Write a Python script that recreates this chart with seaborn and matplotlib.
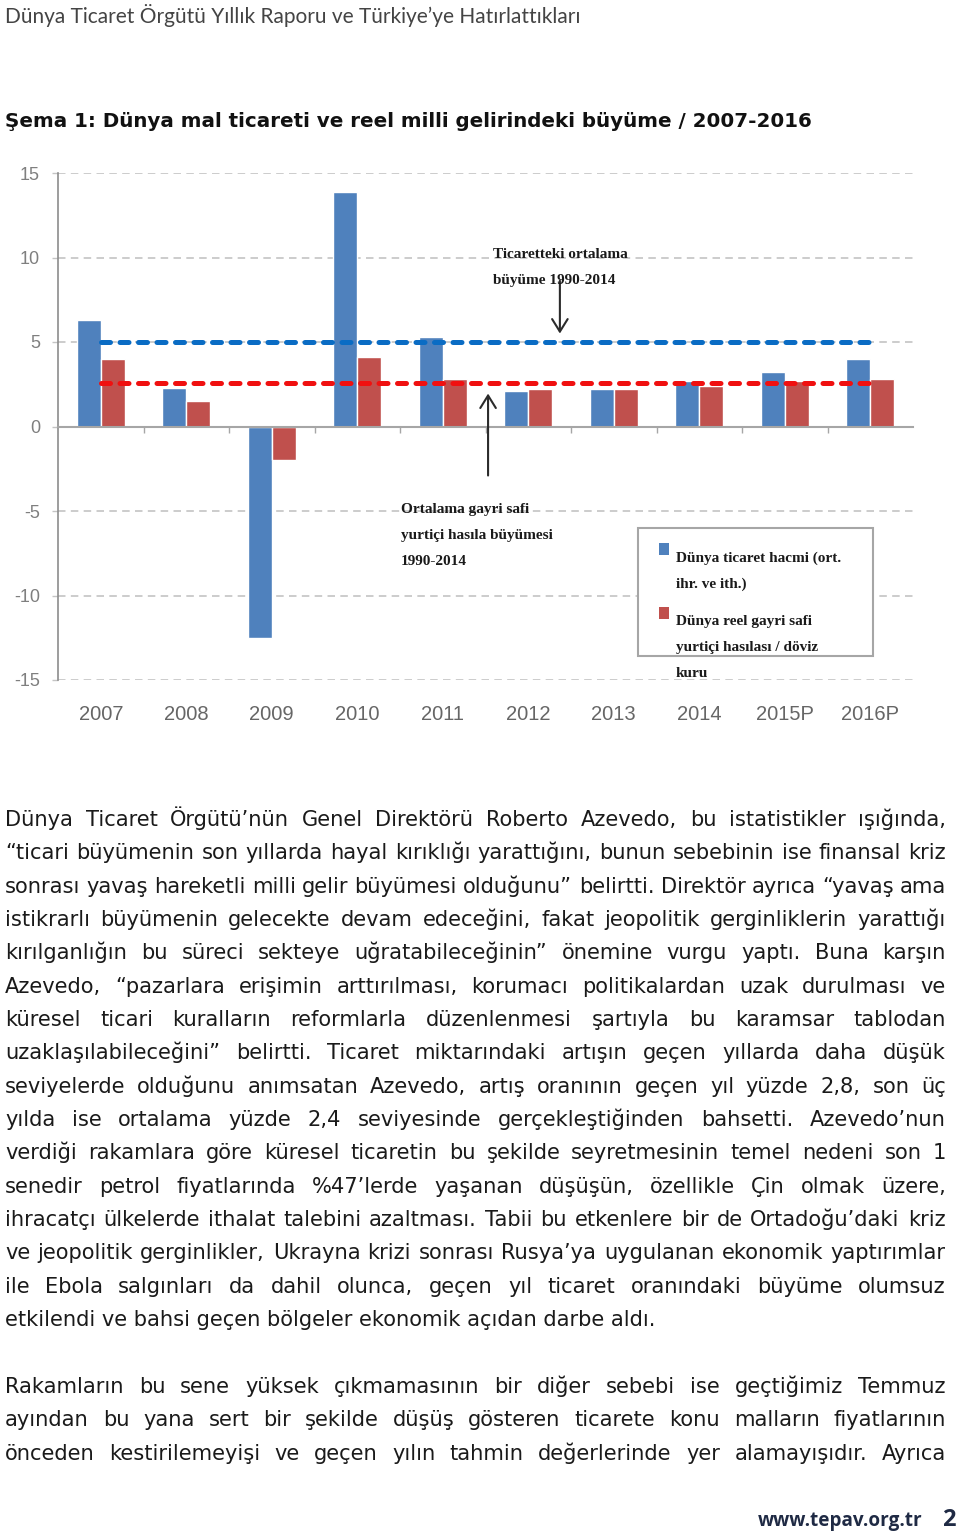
import matplotlib
matplotlib.use("Agg")
import matplotlib.pyplot as plt
from matplotlib.patches import Rectangle
import seaborn as sns
import pandas as pd

# ---------------- data ----------------
years = ['2007', '2008', '2009', '2010', '2011', '2012', '2013', '2014', '2015P', '2016P']
trade_growth = [6.3, 2.3, -12.5, 13.9, 5.3, 2.1, 2.2, 2.7, 3.2, 4.0]
gdp_growth = [4.0, 1.5, -2.0, 4.1, 2.8, 2.2, 2.2, 2.4, 2.7, 2.8]
avg_trade_1990_2014 = 5.0
avg_gdp_1990_2014 = 2.6
series_labels = ['Dünya ticaret hacmi (ort. ihr. ve ith.)',
                 'Dünya reel gayri safi yurtiçi hasılası / döviz kuru']
legend_lines = [['Dünya ticaret hacmi (ort.', 'ihr. ve ith.)'],
                ['Dünya reel gayri safi', 'yurtiçi hasılası / döviz', 'kuru']]
y_ticks = [-15, -10, -5, 0, 5, 10, 15]
y_ticklabels = ['-15', '-10', '-5', '0', '5', '10', '15']
note_trade = ['Ticaretteki ortalama', 'büyüme 1990-2014']
note_gdp = ['Ortalama gayri safi', 'yurtiçi hasıla büyümesi', '1990-2014']

header = 'Dünya Ticaret Örgütü Yıllık Raporu ve Türkiye’ye Hatırlattıkları'
title = 'Şema 1: Dünya mal ticareti ve reel milli gelirindeki büyüme / 2007-2016'
para1 = [
    'Dünya Ticaret Örgütü’nün Genel Direktörü Roberto Azevedo, bu istatistikler ışığında,',
    '“ticari büyümenin son yıllarda hayal kırıklığı yarattığını, bunun sebebinin ise finansal kriz',
    'sonrası yavaş hareketli milli gelir büyümesi olduğunu” belirtti. Direktör ayrıca “yavaş ama',
    'istikrarlı büyümenin gelecekte devam edeceğini, fakat jeopolitik gerginliklerin yarattığı',
    'kırılganlığın bu süreci sekteye uğratabileceğinin” önemine vurgu yaptı. Buna karşın',
    'Azevedo, “pazarlara erişimin arttırılması, korumacı politikalardan uzak durulması ve',
    'küresel ticari kuralların reformlarla düzenlenmesi şartıyla bu karamsar tablodan',
    'uzaklaşılabileceğini” belirtti. Ticaret miktarındaki artışın geçen yıllarda daha düşük',
    'seviyelerde olduğunu anımsatan Azevedo, artış oranının geçen yıl yüzde 2,8, son üç',
    'yılda ise ortalama yüzde 2,4 seviyesinde gerçekleştiğinden bahsetti. Azevedo’nun',
    'verdiği rakamlara göre küresel ticaretin bu şekilde seyretmesinin temel nedeni son 1',
    'senedir petrol fiyatlarında %47’lerde yaşanan düşüşün, özellikle Çin olmak üzere,',
    'ihracatçı ülkelerde ithalat talebini azaltması. Tabii bu etkenlere bir de Ortadoğu’daki kriz',
    've jeopolitik gerginlikler, Ukrayna krizi sonrası Rusya’ya uygulanan ekonomik yaptırımlar',
    'ile Ebola salgınları da dahil olunca, geçen yıl ticaret oranındaki büyüme olumsuz',
    'etkilendi ve bahsi geçen bölgeler ekonomik açıdan darbe aldı.',
]
para2 = [
    'Rakamların bu sene yüksek çıkmamasının bir diğer sebebi ise geçtiğimiz Temmuz',
    'ayından bu yana sert bir şekilde düşüş gösteren ticarete konu malların fiyatlarının',
    'önceden kestirilemeyişi ve geçen yılın tahmin değerlerinde yer alamayışıdır. Ayrıca',
]
footer = 'www.tepav.org.tr'
page_no = '2'

# ---------------- setup ----------------
sns.set_theme(style='white')
W, H = 960, 1532
fig = plt.figure(figsize=(W / 100, H / 100), dpi=100, facecolor='white')
renderer = fig.canvas.get_renderer()

def fx(px):
    return px / W

def fy(py):
    return 1 - py / H

def width_of(s, size, **kw):
    t = fig.text(0, 0, s, fontsize=size, **kw)
    w = t.get_window_extent(renderer).width
    t.remove()
    return w

def fitted_size(s, target_px, **kw):
    return 20 * target_px / width_of(s, 20, **kw)

# ---------------- chart ----------------
ax = fig.add_axes([fx(58), fy(680), fx(913) - fx(58), fy(173) - fy(680)])
df = pd.DataFrame({
    'year': years * 2,
    'value': trade_growth + gdp_growth,
    'series': [series_labels[0]] * len(years) + [series_labels[1]] * len(years),
})
bar_colors = ['#4F81BD', '#C0504D']
sns.barplot(data=df, x='year', y='value', hue='series', hue_order=series_labels,
            palette=bar_colors, saturation=1, width=0.56, gap=0, errorbar=None,
            legend=False, ax=ax, zorder=2)

n = len(years)
ax.set_xlim(-0.5, n - 0.5)
ax.set_ylim(-15, 15)
ax.set_xlabel('')
ax.set_ylabel('')
ax.set_facecolor('white')

# grid
ax.set_yticks(y_ticks, labels=y_ticklabels)
ax.yaxis.grid(True, color='#C4C4C4', linestyle=(0, (4.5, 3.2)), linewidth=1.2, zorder=0)
ax.xaxis.grid(False)
ax.set_axisbelow(True)

# spines
for s in ['top', 'right']:
    ax.spines[s].set_visible(False)
ax.spines['left'].set_color('#8C8C8C')
ax.spines['left'].set_linewidth(1.2)
ax.spines['bottom'].set_position(('data', 0))
ax.spines['bottom'].set_color('#A6A6A6')
ax.spines['bottom'].set_linewidth(1.5)
ax.spines['bottom'].set_zorder(3)

tick_font = ['Liberation Sans', 'DejaVu Sans']
ax.set_xticks([i + 0.5 for i in range(n - 1)], labels=[''] * (n - 1))
ax.tick_params(axis='x', bottom=True, direction='out', length=4, width=1.0, color='#A6A6A6')
ax.tick_params(axis='y', left=True, direction='out', length=4, width=1.0, color='#C4C4C4',
               pad=9, labelsize=13, labelcolor='#7F7F7F')
for lab in ax.get_yticklabels():
    lab.set_family(tick_font)

sec = ax.secondary_xaxis('bottom')
sec.set_xticks(range(n), labels=years)
sec.tick_params(length=0, pad=18, labelsize=14.5, labelcolor='#666666')
sec.spines['bottom'].set_visible(False)
for lab in sec.get_xticklabels():
    lab.set_family(tick_font)

# average lines
ax.plot([0, n - 1], [avg_trade_1990_2014] * 2, color='#0A6CC4', lw=3.6,
        linestyle=(0, (1.8, 1.9)), dash_capstyle='round', zorder=4)
ax.plot([0, n - 1], [avg_gdp_1990_2014] * 2, color='#F01010', lw=3.6,
        linestyle=(0, (1.8, 1.9)), dash_capstyle='round', zorder=4)

# arrows
arrow_kw = dict(arrowstyle='->,head_length=0.45,head_width=0.28', color='#2B2B2B',
                lw=1.5, shrinkA=0, shrinkB=0, mutation_scale=20)
ax.annotate('', xy=(5.37, 5.5), xytext=(5.37, 8.62), arrowprops=arrow_kw, zorder=5)
ax.annotate('', xy=(4.53, 1.95), xytext=(4.53, -2.9), arrowprops=arrow_kw, zorder=5)

# notes
serif = ['Liberation Serif', 'DejaVu Serif']
note_kw = dict(family=serif, fontsize=11, weight='bold', color='#1A1A1A',
               va='baseline', ha='left')
for i, line in enumerate(note_trade):
    fig.text(fx(493), fy(258 + 26 * i), line, **note_kw)
for i, line in enumerate(note_gdp):
    fig.text(fx(401), fy(513 + 26 * i), line, **note_kw)

# legend (manual box as in the original)
fig.patches.append(Rectangle((fx(638), fy(656)), fx(873) - fx(638), fy(528) - fy(656),
                             transform=fig.transFigure, facecolor='white',
                             edgecolor='#A6A6A6', lw=1.5, zorder=1))
sq_y = [543, 607]
text_base = [[562, 588], [625, 651, 677]]
for k in range(2):
    fig.patches.append(Rectangle((fx(659), fy(sq_y[k] + 12)), fx(10), 12 / H,
                                 transform=fig.transFigure, facecolor=bar_colors[k],
                                 edgecolor='none', zorder=2))
    for line, b in zip(legend_lines[k], text_base[k]):
        fig.text(fx(676), fy(b), line, zorder=3, **note_kw)

# ---------------- page text ----------------
head_font = ['Lato', 'DejaVu Sans']
fig.text(fx(5), fy(23), header, family=head_font, color='#444444', va='baseline', ha='left',
         fontsize=fitted_size(header, 575, family=head_font))

title_font = ['DejaVu Sans', 'Noto Sans']
fig.text(fx(5), fy(127), title, family=title_font, weight='bold', color='#111111',
         va='baseline', ha='left',
         fontsize=fitted_size(title, 808, family=title_font, weight='bold'))

body_font = ['DejaVu Sans']
LEFT, RIGHT = 5, 946
justified = [(l, True) for l in para1[:-1]] + [(para1[-1], False)]
justified2 = [(l, True) for l in para2]

# font size: last line natural width ~681px, but every justified line must fit
size = fitted_size(para1[-1], 681, family=body_font)
ref = 20
space_ref = width_of('a a', ref, family=body_font) - width_of('aa', ref, family=body_font)
for line, _ in justified[:-1] + justified2:
    words = line.split(' ')
    wsum = sum(width_of(w, ref, family=body_font) for w in words)
    need = wsum + (len(words) - 1) * space_ref * 0.9
    size = min(size, ref * (RIGHT - LEFT) / need)
scale = size / ref

def draw_lines(lines, base0, step):
    for i, (line, just) in enumerate(lines):
        b = base0 + step * i
        if not just:
            fig.text(fx(LEFT), fy(b), line, family=body_font, fontsize=size,
                     color='#1A1A1A', va='baseline', ha='left')
            continue
        words = line.split(' ')
        ws = [width_of(w, ref, family=body_font) * scale for w in words]
        gap = (RIGHT - LEFT - sum(ws)) / (len(words) - 1)
        x = LEFT
        for w, wd in zip(words, ws):
            fig.text(fx(x), fy(b), w, family=body_font, fontsize=size,
                     color='#1A1A1A', va='baseline', ha='left')
            x += wd + gap

draw_lines(justified, 826, 33.33)
draw_lines(justified2, 1393, 33.33)

foot_font = ['Open Sans', 'DejaVu Sans']
fig.text(fx(922), fy(1526), footer, family=foot_font, weight='bold', color='#1F2A44',
         va='baseline', ha='right',
         fontsize=fitted_size(footer, 164, family=foot_font, weight='bold'))
fig.text(fx(956), fy(1526), page_no, family=foot_font, weight='bold', color='#1F2A44',
         va='baseline', ha='right', fontsize=17)

fig.savefig('out.png', dpi=100, facecolor='white')
